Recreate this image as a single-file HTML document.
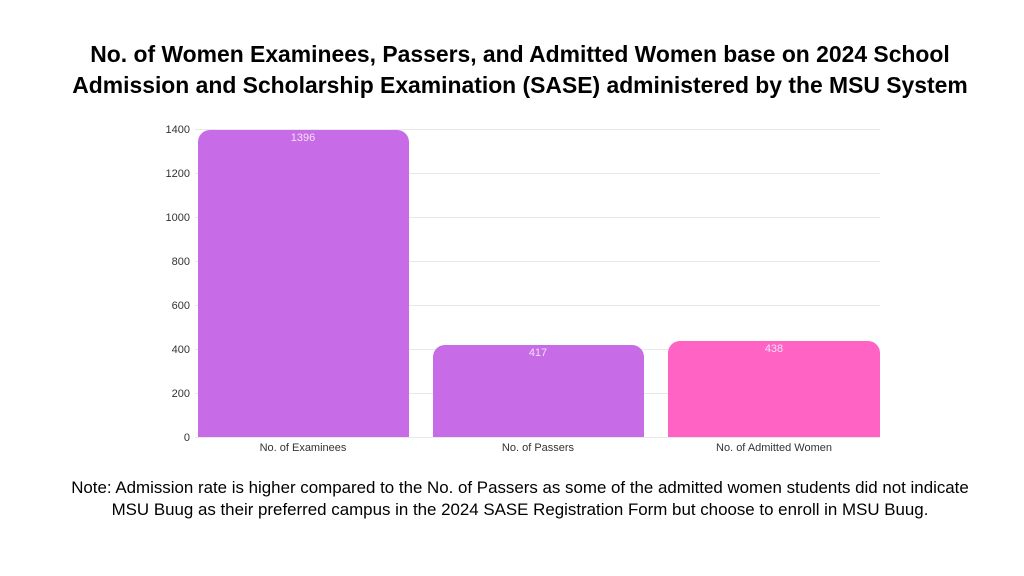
<!DOCTYPE html>
<html><head><meta charset="utf-8"><style>
body{margin:0;width:1024px;height:576px;background:#fff;font-family:"Liberation Sans",sans-serif;overflow:hidden}
.t{position:absolute;left:8px;width:1024px;text-align:center;color:#000;white-space:nowrap}
</style></head><body>
<div class="t" style="top:39px;font-size:22.9px;font-weight:bold;line-height:31px">No. of Women Examinees, Passers, and Admitted Women base on 2024 School<br>Admission and Scholarship Examination (SASE) administered by the MSU System</div>
<svg width="1024" height="576" style="position:absolute;left:0;top:0" font-family="Liberation Sans, sans-serif">
<g stroke="#e8e8e8" stroke-width="1">
<line x1="195" x2="880" y1="129.5" y2="129.5"/><line x1="195" x2="880" y1="173.5" y2="173.5"/><line x1="195" x2="880" y1="217.5" y2="217.5"/><line x1="195" x2="880" y1="261.5" y2="261.5"/><line x1="195" x2="880" y1="305.5" y2="305.5"/><line x1="195" x2="880" y1="349.5" y2="349.5"/><line x1="195" x2="880" y1="393.5" y2="393.5"/><line x1="195" x2="880" y1="437.5" y2="437.5"/>
</g>
<g font-size="11" fill="#333" text-anchor="end">
<text x="190" y="133">1400</text><text x="190" y="177">1200</text><text x="190" y="221">1000</text><text x="190" y="265">800</text><text x="190" y="309">600</text><text x="190" y="353">400</text><text x="190" y="397">200</text><text x="190" y="441">0</text>
</g>
<path d="M198 437V142a12 12 0 0 1 12-12h187a12 12 0 0 1 12 12V437Z" fill="#c86be6"/>
<path d="M433 437V357a12 12 0 0 1 12-12h187a12 12 0 0 1 12 12V437Z" fill="#c86be6"/>
<path d="M668 437V353a12 12 0 0 1 12-12h188a12 12 0 0 1 12 12V437Z" fill="#ff63c3"/>
<g font-size="11" fill="#f4e0fa" text-anchor="middle">
<text x="303" y="141">1396</text><text x="538" y="356">417</text><text x="774" y="352">438</text>
</g>
<g font-size="11" fill="#333" text-anchor="middle">
<text x="303" y="451">No. of Examinees</text><text x="538" y="451">No. of Passers</text><text x="774" y="451">No. of Admitted Women</text>
</g>
</svg>
<div class="t" style="top:477px;font-size:16.9px;line-height:22px">Note: Admission rate is higher compared to the No. of Passers as some of the admitted women students did not indicate<br>MSU Buug as their preferred campus in the 2024 SASE Registration Form but choose to enroll in MSU Buug.</div>
</body></html>
